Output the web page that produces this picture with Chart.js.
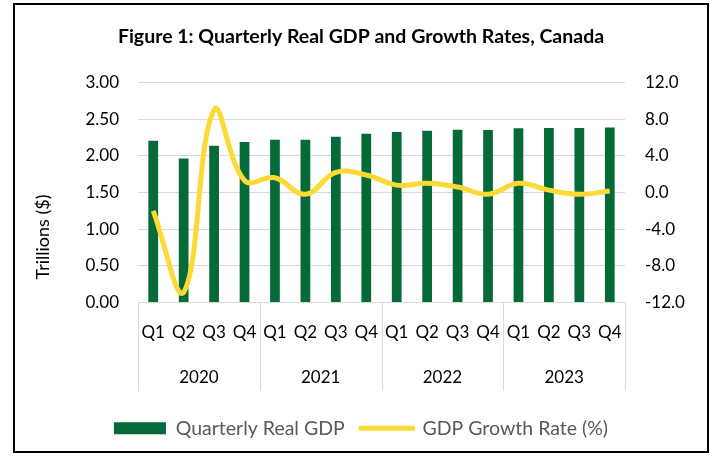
<!DOCTYPE html>
<html>
<head>
<meta charset="utf-8">
<script src="https://cdn.jsdelivr.net/npm/chart.js@4"></script>
<style>
  body { margin: 0; background: #fff; }
  #box {
    position: absolute; left: 13px; top: 3px;
    width: 692px; height: 446px;
    border: 2px solid #000; background: #fff;
  }
</style>
</head>
<body>
<div id="box"><canvas id="gdpChart" width="692" height="446"></canvas></div>
<script>
const quarters = ["Q1","Q2","Q3","Q4","Q1","Q2","Q3","Q4","Q1","Q2","Q3","Q4","Q1","Q2","Q3","Q4"];
const years = ["2020", "2021", "2022", "2023"];
const realGdp = [2.205, 1.964, 2.137, 2.188, 2.219, 2.22, 2.26, 2.30, 2.325, 2.34, 2.356, 2.35, 2.375, 2.38, 2.38, 2.384];
const growthRate = [-2.0, -10.9, 9.0, 1.3, 1.6, -0.2, 2.2, 1.9, 0.8, 1.0, 0.6, -0.2, 1.0, 0.25, -0.2, 0.15];
const gdpTicks = [0, 0.5, 1, 1.5, 2, 2.5, 3];
const rateTicks = [-12, -8, -4, 0, 4, 8, 12];

const GREEN = "#046a38";
const YELLOW = "#fdd935";
const FONT = "Lato, 'Open Sans', sans-serif";

// year dividers under the axis + rotated left title
const extras = {
  id: "extras",
  afterDraw(chart) {
    const ctx = chart.ctx;
    const x = chart.scales.x;
    const bottom = chart.chartArea.bottom;
    ctx.save();
    ctx.strokeStyle = "#d9d9d9";
    ctx.lineWidth = 1;
    for (let i = 0; i <= years.length; i++) {
      const px = Math.round(x.getPixelForValue(i * 4 - 0.5)) + 0.5;
      ctx.beginPath();
      ctx.moveTo(px, bottom);
      ctx.lineTo(px, 386);
      ctx.stroke();
    }
    ctx.translate(28, 232);
    ctx.rotate(-Math.PI / 2);
    ctx.fillStyle = "#000";
    ctx.font = "18px " + FONT;
    ctx.textAlign = "center";
    ctx.textBaseline = "middle";
    ctx.fillText("Trillions ($)", 0, 0);
    ctx.restore();
  }
};

new Chart(document.getElementById("gdpChart"), {
  data: {
    labels: quarters,
    datasets: [
      {
        type: "bar",
        label: "Quarterly Real GDP",
        data: realGdp,
        backgroundColor: GREEN,
        yAxisID: "y",
        categoryPercentage: 0.32,
        barPercentage: 1,
        order: 1
      },
      {
        type: "line",
        label: "GDP Growth Rate (%)",
        data: growthRate,
        borderColor: YELLOW,
        borderWidth: 5,
        pointRadius: 0,
        tension: 0.4,
        fill: false,
        yAxisID: "y1",
        order: 0
      }
    ]
  },
  options: {
    responsive: false,
    animation: false,
    layout: { padding: { left: 0, right: 0, top: 0, bottom: 3 } },
    plugins: {
      tooltip: { enabled: false },
      title: {
        display: true,
        text: "Figure 1: Quarterly Real GDP and Growth Rates, Canada",
        color: "#000",
        font: { family: FONT, size: 19.5, weight: "bold" },
        padding: { top: 20, bottom: 34 }
      },
      legend: {
        position: "bottom",
        labels: {
          color: "#595959",
          font: { family: FONT, size: 19.5 },
          usePointStyle: true,
          pointStyleWidth: 52,
          boxHeight: 12,
          padding: 16,
          generateLabels: () => [
            { text: "Quarterly Real GDP", fillStyle: GREEN, strokeStyle: GREEN, lineWidth: 0, pointStyle: "rect", datasetIndex: 0, hidden: false, fontColor: "#595959" },
            { text: "GDP Growth Rate (%)", fillStyle: YELLOW, strokeStyle: YELLOW, lineWidth: 5, lineCap: "round", pointStyle: "line", datasetIndex: 1, hidden: false, fontColor: "#595959" }
          ]
        }
      }
    },
    scales: {
      x: {
        offset: true,
        grid: { display: false, drawTicks: false },
        border: { display: true, color: "#d9d9d9", width: 1 },
        ticks: { color: "#000", font: { family: FONT, size: 17 }, padding: 20, maxRotation: 0, autoSkip: false },
        afterFit: s => { s.height = 40; }
      },
      xYear: {
        type: "category",
        labels: years,
        position: "bottom",
        offset: true,
        weight: 1,
        grid: { display: false, drawTicks: false },
        border: { display: false },
        ticks: { color: "#000", font: { family: FONT, size: 17 }, padding: 25, maxRotation: 0 },
        afterFit: s => { s.height = 60; }
      },
      y: {
        position: "left",
        min: 0, max: 3,
        afterBuildTicks: s => { s.ticks = gdpTicks.map(v => ({ value: v })); },
        grid: { color: "#d9d9d9", drawTicks: false },
        border: { display: false },
        ticks: { color: "#000", font: { family: FONT, size: 17 }, padding: 19, callback: v => v.toFixed(2) },
        afterFit: s => { s.width = 123; }
      },
      y1: {
        position: "right",
        min: -12, max: 12,
        afterBuildTicks: s => { s.ticks = rateTicks.map(v => ({ value: v })); },
        grid: { display: false, drawTicks: false },
        border: { display: false },
        ticks: { color: "#000", font: { family: FONT, size: 17 }, padding: 20, callback: v => v.toFixed(1) },
        afterFit: s => { s.width = 82; }
      }
    }
  },
  plugins: [extras]
});
</script>
</body>
</html>
